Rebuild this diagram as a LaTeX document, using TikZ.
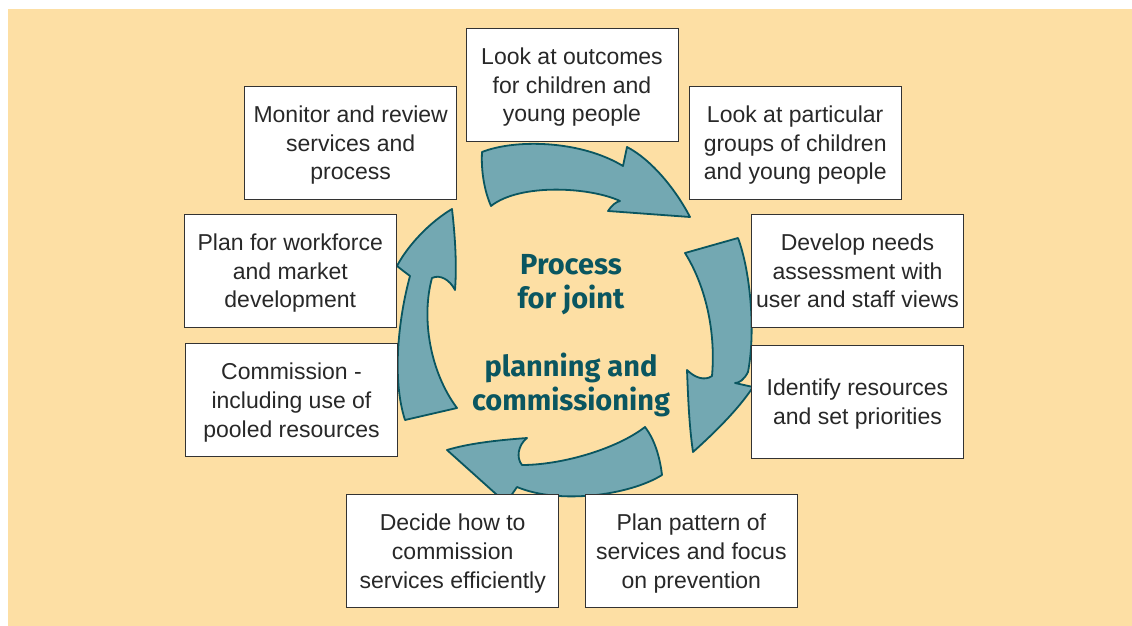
\documentclass[tikz,border=0pt]{standalone}
\usepackage{fontspec}
\setmainfont{Liberation Sans}
\newfontfamily\titlefont{Fira Sans}
\definecolor{bgtan}{RGB}{253,223,164}
\definecolor{tealfill}{RGB}{115,168,178}
\definecolor{tealdark}{RGB}{10,86,96}
\definecolor{boxtext}{RGB}{40,40,40}
\tikzset{
  stepbox/.style={draw=black!80, line width=0.9pt, fill=white,
    minimum width=212pt, minimum height=113pt, inner sep=0pt,
    align=center, text=boxtext, font=\fontsize{23}{28.7}\selectfont,
    text depth=-8pt},
  cyclearrow/.style={fill=tealfill, draw=tealdark, line width=1.8pt, line join=round},
  centretext/.style={text=tealdark, align=center,
    font=\titlefont\bfseries\fontsize{29}{33.5}\selectfont}
}
\begin{document}
\begin{tikzpicture}[x=1pt,y=-1pt]
\useasboundingbox (0,0) rectangle (1132,626);
\fill[white] (0,0) rectangle (1132,626);
\fill[bgtan] (8,9) rectangle (1132,626);
\draw[cyclearrow] (482,152) .. controls (515,139) and (580,140) .. (623,166) -- (627,147)
  .. controls (652,160) and (676,190) .. (690,217) -- (608,211)
  .. controls (612,205) and (616,202) .. (620,201)
  .. controls (590,187) and (520,183) .. (491,206)
  .. controls (484,190) and (481,170) .. cycle;
\draw[cyclearrow] (685,253) -- (738,238) .. controls (750,270) and (756,330) .. (748,372)
  .. controls (744,380) and (739,383) .. (735,383) -- (753,387)
  .. controls (738,410) and (712,435) .. (693,452)
  .. controls (689,425) and (688,395) .. (687,370)
  .. controls (695,378) and (705,381) .. (712,376)
  .. controls (716,330) and (705,285) .. cycle;
\draw[cyclearrow] (447,450) .. controls (470,443) and (500,440) .. (527,438)
  .. controls (518,445) and (516,458) .. (522,465)
  .. controls (560,465) and (615,450) .. (645,427)
  .. controls (655,440) and (660,458) .. (662,475)
  .. controls (630,495) and (560,505) .. (517,487) -- (506,503) -- cycle;
\draw[cyclearrow] (452,209) .. controls (430,222) and (408,245) .. (397,266)
  .. controls (402,270) and (406,273) .. (410,276)
  .. controls (398,320) and (392,380) .. (405,420) -- (457,408)
  .. controls (430,372) and (421,318) .. (432,278)
  .. controls (440,274) and (450,280) .. (455,290)
  .. controls (457,265) and (455,235) .. cycle;
\node[centretext] (t1) at (571,284.5) {Process\\for joint};
\node[centretext] (t2) at (571,385) {planning and\\commissioning};
\node[stepbox] (s1) at (572,84.7) {Look at outcomes\\for children and\\young people};
\node[stepbox] (s2) at (795.2,142.7) {Look at particular\\groups of children\\and young people};
\node[stepbox] (s3) at (857.5,270.8) {Develop needs\\assessment with\\user and staff views};
\node[stepbox] (s4) at (857.5,401.8) {Identify resources\\and set priorities};
\node[stepbox] (s5) at (691.3,551.3) {Plan pattern of\\services and focus\\on prevention};
\node[stepbox] (s6) at (452.7,551.3) {Decide how to\\commission\\services efficiently};
\node[stepbox] (s7) at (291.5,400) {Commission -\\including use of\\pooled resources};
\node[stepbox] (s8) at (290.3,270.7) {Plan for workforce\\and market\\development};
\node[stepbox] (s9) at (350.7,142.7) {Monitor and review\\services and\\process};
\end{tikzpicture}
\end{document}
